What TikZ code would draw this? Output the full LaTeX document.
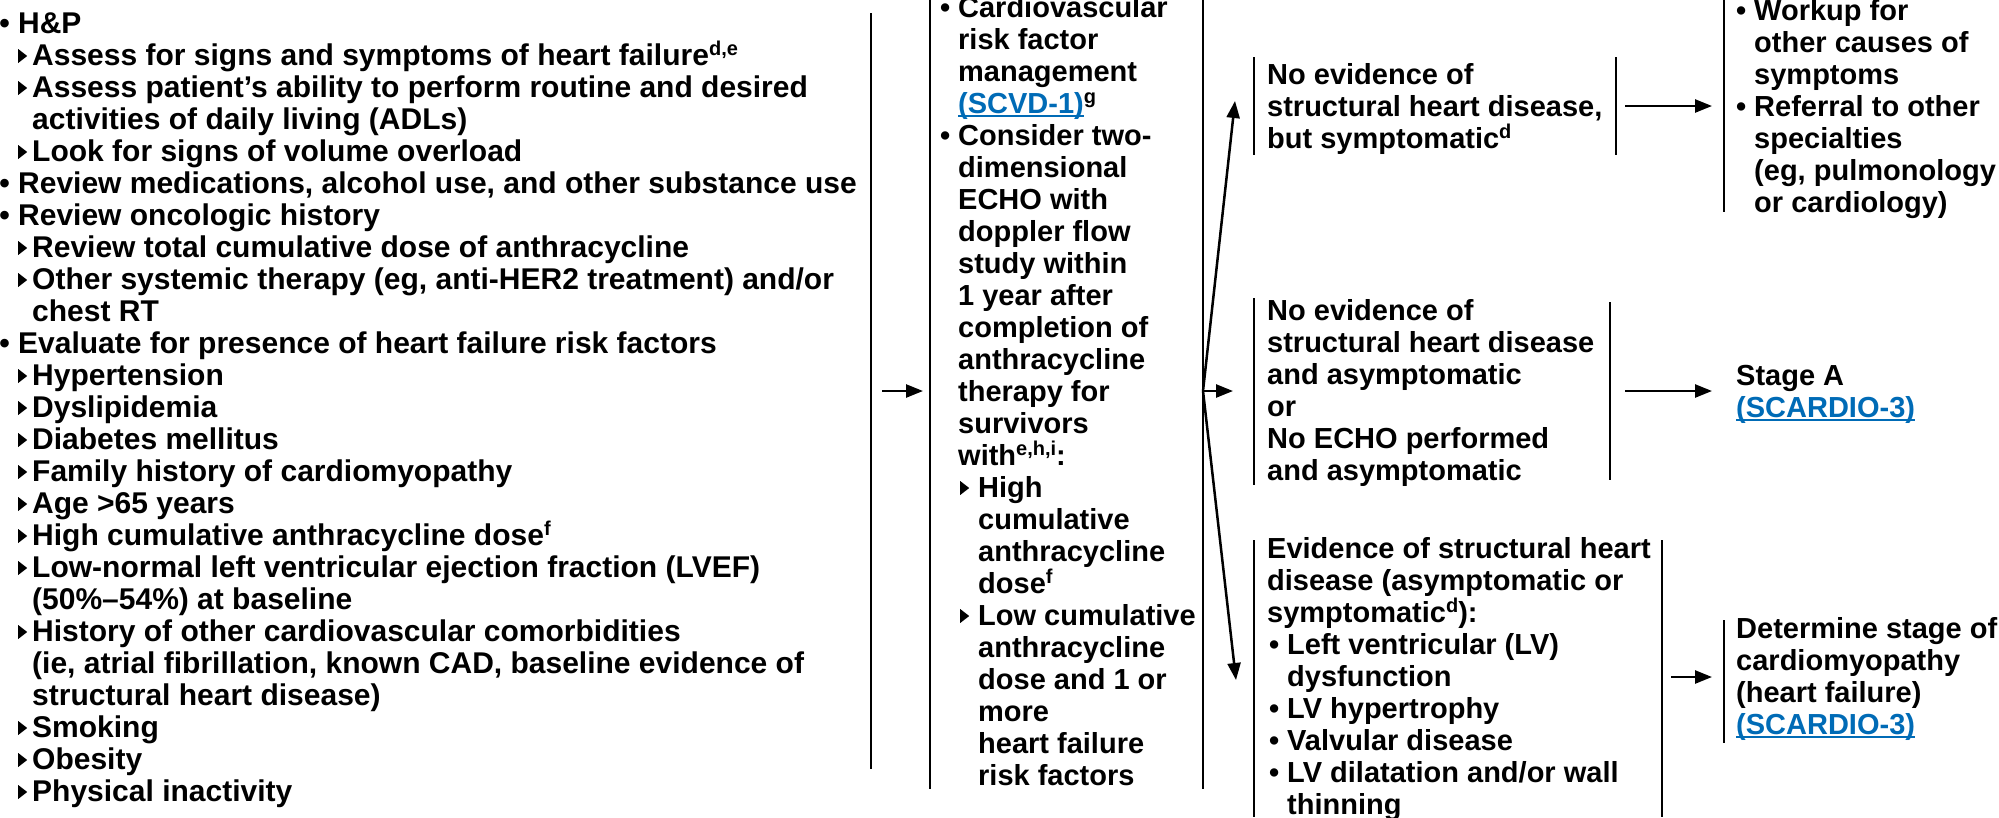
\documentclass[tikz,border=0pt]{standalone}
\usepackage{fontspec}
\setmainfont{Liberation Sans}
\usetikzlibrary{arrows.meta}
\definecolor{linkblue}{RGB}{0,107,182}

% text helpers
\newsavebox\tribox
\newcommand\sups[1]{\raisebox{10pt}{\fontsize{20}{20}\selectfont #1}}
\newcommand\lnk[1]{\textcolor{linkblue}{\setbox0\hbox{#1}\rlap{\rule[-4pt]{\wd0}{2pt}}\box0}}
\newcommand\bul[1]{\hbox{\llap{\textbullet\ }#1}}
\newcommand\bulin[2]{\hbox{\kern#1\relax\llap{\textbullet\ }#2}}
\newcommand\cont[2]{\hbox{\kern#1\relax #2}}
\newcommand\sub[3]{\hbox{\kern#1\relax\llap{\raisebox{2pt}{\usebox\tribox}\kern#2\relax}#3}}
\newcommand\plain[1]{\hbox{#1}}
\newcommand\lines[1]{\vtop{\baselineskip=32pt\lineskiplimit=-100pt #1}}

\tikzset{
  txt/.style={anchor=base west, inner sep=0pt, font=\bfseries\fontsize{29}{32}\selectfont},
  widetxt/.style={txt, font=\bfseries\fontsize{30}{32}\selectfont},
  brk/.style={line width=2.8pt},
  arr/.style={line width=2.5pt, -{Triangle[length=17pt,width=13pt]}}
}

\begin{document}
\sbox\tribox{\begin{pgfpicture}\pgfpathmoveto{\pgfpoint{0pt}{0pt}}\pgfpathlineto{\pgfpoint{0pt}{14pt}}\pgfpathlineto{\pgfpoint{9pt}{7pt}}\pgfpathclose\pgfusepath{fill}\end{pgfpicture}}
\begin{tikzpicture}[x=1pt,y=-1pt]
\useasboundingbox (0,0) rectangle (1999,817);

% ---- assessment column ----
\node[widetxt] (hp) at (18,33) {\lines{%
  \bul{H\&P}
  \sub{14pt}{5pt}{Assess for signs and symptoms of heart failure\sups{d,e}}
  \sub{14pt}{5pt}{Assess patient’s ability to perform routine and desired}
  \cont{14pt}{activities of daily living (ADLs)}
  \sub{14pt}{5pt}{Look for signs of volume overload}
  \bul{Review medications, alcohol use, and other substance use}
  \bul{Review oncologic history}
  \sub{14pt}{5pt}{Review total cumulative dose of anthracycline}
  \sub{14pt}{5pt}{Other systemic therapy (eg, anti-HER2 treatment) and/or}
  \cont{14pt}{chest RT}
  \bul{Evaluate for presence of heart failure risk factors}
  \sub{14pt}{5pt}{Hypertension}
  \sub{14pt}{5pt}{Dyslipidemia}
  \sub{14pt}{5pt}{Diabetes mellitus}
  \sub{14pt}{5pt}{Family history of cardiomyopathy}
  \sub{14pt}{5pt}{Age >65 years}
  \sub{14pt}{5pt}{High cumulative anthracycline dose\sups{f}}
  \sub{14pt}{5pt}{Low-normal left ventricular ejection fraction (LVEF)}
  \cont{14pt}{(50\%–54\%) at baseline}
  \sub{14pt}{5pt}{History of other cardiovascular comorbidities}
  \cont{14pt}{(ie, atrial fibrillation, known CAD, baseline evidence of}
  \cont{14pt}{structural heart disease)}
  \sub{14pt}{5pt}{Smoking}
  \sub{14pt}{5pt}{Obesity}
  \sub{14pt}{5pt}{Physical inactivity}}};

% ---- follow-up column ----
\node[txt] (fu) at (958,17) {\lines{%
  \bul{Cardiovascular}
  \plain{risk factor}
  \plain{management}
  \plain{\lnk{(SCVD-1)}\sups{g}}
  \bul{Consider two-}
  \plain{dimensional}
  \plain{ECHO with}
  \plain{doppler flow}
  \plain{study within}
  \plain{1 year after}
  \plain{completion of}
  \plain{anthracycline}
  \plain{therapy for}
  \plain{survivors}
  \plain{with\sups{e,h,i}:}
  \sub{20pt}{9pt}{High}
  \cont{20pt}{cumulative}
  \cont{20pt}{anthracycline}
  \cont{20pt}{dose\sups{f}}
  \sub{20pt}{9pt}{Low cumulative}
  \cont{20pt}{anthracycline}
  \cont{20pt}{dose and 1 or}
  \cont{20pt}{more}
  \cont{20pt}{heart failure}
  \cont{20pt}{risk factors}}};

% ---- findings ----
\node[txt] (sym) at (1267,84) {\lines{%
  \plain{No evidence of}
  \plain{structural heart disease,}
  \plain{but symptomatic\sups{d}}}};

\node[txt] (asym) at (1267,320) {\lines{%
  \plain{No evidence of}
  \plain{structural heart disease}
  \plain{and asymptomatic}
  \plain{or}
  \plain{No ECHO performed}
  \plain{and asymptomatic}}};

\node[txt] (shd) at (1267,558) {\lines{%
  \plain{Evidence of structural heart}
  \plain{disease (asymptomatic or}
  \plain{symptomatic\sups{d}):}
  \bulin{20pt}{Left ventricular (LV)}
  \cont{20pt}{dysfunction}
  \bulin{20pt}{LV hypertrophy}
  \bulin{20pt}{Valvular disease}
  \bulin{20pt}{LV dilatation and/or wall}
  \cont{20pt}{thinning}}};

% ---- outcomes ----
\node[txt] (work) at (1754,20) {\lines{%
  \bul{Workup for}
  \plain{other causes of}
  \plain{symptoms}
  \bul{Referral to other}
  \plain{specialties}
  \plain{(eg, pulmonology}
  \plain{or cardiology)}}};

\node[txt] (stA) at (1736,385) {\lines{%
  \plain{Stage A}
  \plain{\lnk{(SCARDIO-3)}}}};

\node[txt] (det) at (1736,638) {\lines{%
  \plain{Determine stage of}
  \plain{cardiomyopathy}
  \plain{(heart failure)}
  \plain{\lnk{(SCARDIO-3)}}}};

% ---- bracket rules ----
\draw[brk] (871,13) -- (871,769);
\draw[brk] (930,0) -- (930,789);
\draw[brk] (1203,0) -- (1203,789);
\draw[brk] (1254,57) -- (1254,155);
\draw[brk] (1616,57) -- (1616,155);
\draw[brk] (1254,298) -- (1254,485);
\draw[brk] (1610,302) -- (1610,480);
\draw[brk] (1254,540) -- (1254,817);
\draw[brk] (1662,540) -- (1662,817);
\draw[brk] (1724,0) -- (1724,212);
\draw[brk] (1724,620) -- (1724,743);

% ---- connector end points ----
\coordinate (hpOut) at (882,391);
\coordinate (fuIn) at (923,391);
\coordinate (fuOut) at (1203,391);
\coordinate (asymIn) at (1233,391);
\coordinate (symIn) at (1235,101);
\coordinate (shdIn) at (1236,680);
\coordinate (symOut) at (1625,106);
\coordinate (workIn) at (1712,106);
\coordinate (asymOut) at (1625,391);
\coordinate (stAIn) at (1712,391);
\coordinate (shdOut) at (1671,677);
\coordinate (detIn) at (1712,677);

% ---- connectors ----
\draw[arr] (hpOut) -- (fuIn);
\draw[arr] (fuOut) -- (asymIn);
\draw[arr] (fuOut) -- (symIn);
\draw[arr] (fuOut) -- (shdIn);
\draw[arr] (symOut) -- (workIn);
\draw[arr] (asymOut) -- (stAIn);
\draw[arr] (shdOut) -- (detIn);
\end{tikzpicture}
\end{document}
